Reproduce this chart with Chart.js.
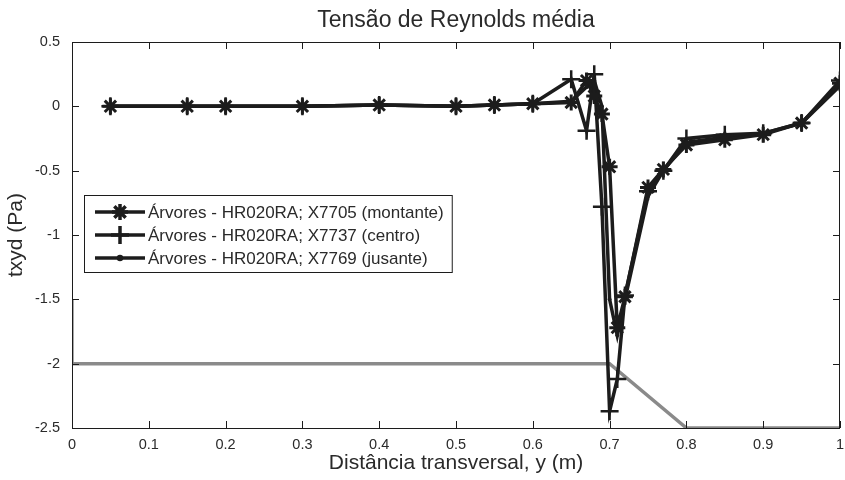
<!DOCTYPE html>
<html>
<head>
<meta charset="utf-8">
<script src="https://cdn.jsdelivr.net/npm/chart.js@4"></script>
<style>
  html, body { margin: 0; padding: 0; background: #fff; }
</style>
</head>
<body>
<canvas id="chart" width="845" height="480"></canvas>
<script>
// posições transversais (m)
const xPos = [0.05, 0.15, 0.2, 0.3, 0.4, 0.5, 0.55, 0.6, 0.65, 0.67, 0.68, 0.69, 0.70, 0.71, 0.72, 0.75, 0.77, 0.8, 0.85, 0.9, 0.95, 1.0];

// tensão média txyd (Pa)
const montante = [0, 0, 0, 0, 0.01, 0, 0.01, 0.02, 0.03, 0.2, 0.08, -0.06, -0.47, -1.72, -1.48, -0.63, -0.49, -0.3, -0.26, -0.22, -0.13, 0.18];
const centro   = [0, 0, 0, 0, 0.01, 0, 0.01, 0.02, 0.21, -0.19, 0.25, -0.78, -2.37, -2.12, -1.47, -0.66, -0.5, -0.25, -0.22, -0.21, -0.13, 0.2];
const jusante  = [0, 0, 0, 0, 0.01, 0, 0.01, 0.02, 0.04, 0.15, 0.2, 0.0, -1.5, -1.78, -1.5, -0.7, -0.5, -0.28, -0.24, -0.21, -0.13, 0.16];

// linha cinza (perfil do fundo)
const perfilX = [0, 0, 0.7, 0.8, 1.0];
const perfilY = [-1.5, -2, -2, -2.5, -2.5];

const labels = [
  "Árvores - HR020RA; X7705 (montante)",
  "Árvores - HR020RA; X7737 (centro)",
  "Árvores - HR020RA; X7769 (jusante)"
];
const xTicks = [0, 0.1, 0.2, 0.3, 0.4, 0.5, 0.6, 0.7, 0.8, 0.9, 1];
const yTicks = [0.5, 0, -0.5, -1, -1.5, -2, -2.5];

const ink = "#1c1c1c";
const txt = "#2a2a2a";
const font = "'Liberation Sans', Arial, sans-serif";

function pts(xs, ys) {
  return xs.map((x, i) => ({ x: x, y: ys[i] }));
}

// moldura, ticks para dentro, título e legenda ao estilo Matlab
const matlabBox = {
  id: "matlabBox",
  afterDraw(chart) {
    const ctx = chart.ctx;
    const a = chart.chartArea;
    const sx = chart.scales.x, sy = chart.scales.y;
    ctx.save();
    ctx.strokeStyle = ink;
    ctx.lineWidth = 1;
    ctx.strokeRect(a.left + 0.5, a.top + 0.5, a.right - a.left - 1, a.bottom - a.top);
    ctx.beginPath();
    xTicks.forEach(v => {
      const p = Math.round(sx.getPixelForValue(v)) + 0.5;
      ctx.moveTo(p, a.bottom); ctx.lineTo(p, a.bottom - 7);
      ctx.moveTo(p, a.top); ctx.lineTo(p, a.top + 7);
    });
    yTicks.forEach(v => {
      const p = Math.round(sy.getPixelForValue(v)) + 0.5;
      ctx.moveTo(a.left, p); ctx.lineTo(a.left + 7, p);
      ctx.moveTo(a.right, p); ctx.lineTo(a.right - 7, p);
    });
    ctx.stroke();

    ctx.fillStyle = txt;
    ctx.font = "23px " + font;
    ctx.textAlign = "center";
    ctx.textBaseline = "middle";
    ctx.fillText("Tensão de Reynolds média", (a.left + a.right) / 2, 21);

    // legenda
    ctx.font = "17px " + font;
    const tw = Math.max(...labels.map(s => ctx.measureText(s).width));
    const lx = 84, ly = 195, lw = 64 + tw + 8, lh = 77;
    ctx.fillStyle = "#fff";
    ctx.fillRect(lx, ly, lw, lh);
    ctx.strokeStyle = ink;
    ctx.lineWidth = 1;
    ctx.strokeRect(lx + 0.5, ly + 0.5, lw, lh);
    ctx.textAlign = "left";
    for (let i = 0; i < 3; i++) {
      const ds = chart.data.datasets[i];
      const yy = ly + 17 + i * 23;
      ctx.strokeStyle = ink;
      ctx.lineWidth = 3.5;
      ctx.beginPath();
      ctx.moveTo(lx + 11, yy); ctx.lineTo(lx + 61, yy);
      ctx.stroke();
      Chart.helpers.drawPoint(ctx, {
        pointStyle: ds.pointStyle,
        radius: ds.pointRadius,
        borderWidth: ds.pointBorderWidth
      }, lx + 36, yy);
      ctx.fillStyle = txt;
      ctx.fillText(ds.label, lx + 64, yy + 1);
    }
    ctx.restore();
  }
};

const ctx = document.getElementById("chart").getContext("2d");
new Chart(ctx, {
  type: "line",
  data: {
    datasets: [
      {
        label: labels[0], data: pts(xPos, montante),
        borderColor: ink, backgroundColor: ink, borderWidth: 3.5,
        pointStyle: "star", pointRadius: 8, pointBorderWidth: 3,
        pointBorderColor: ink, pointBackgroundColor: ink
      },
      {
        label: labels[1], data: pts(xPos, centro),
        borderColor: ink, backgroundColor: ink, borderWidth: 3.5,
        pointStyle: "cross", pointRadius: 9, pointBorderWidth: 2.5,
        pointBorderColor: ink, pointBackgroundColor: ink
      },
      {
        label: labels[2], data: pts(xPos, jusante),
        borderColor: ink, backgroundColor: ink, borderWidth: 3.5,
        pointStyle: "circle", pointRadius: 1.5, pointBorderWidth: 1,
        pointBorderColor: ink, pointBackgroundColor: ink
      },
      {
        label: "perfil", data: pts(perfilX, perfilY),
        borderColor: "#8a8a8a", borderWidth: 3.5, pointRadius: 0
      }
    ]
  },
  options: {
    responsive: false,
    animation: false,
    layout: { autoPadding: false, padding: { top: 42, right: 5, left: 0, bottom: 0 } },
    plugins: {
      legend: { display: false },
      tooltip: { enabled: false }
    },
    scales: {
      x: {
        type: "linear", min: 0, max: 1,
        afterFit(s) { s.height = 52; s.paddingRight = 0; s.paddingLeft = 0; },
        afterBuildTicks(s) { s.ticks = xTicks.map(v => ({ value: v })); },
        grid: { display: false },
        border: { display: false },
        ticks: {
          color: txt, font: { family: font, size: 14.5 }, padding: 0, maxRotation: 0,
          autoSkip: false, callback: v => String(v)
        },
        title: {
          display: true, text: "Distância transversal, y (m)",
          color: txt, font: { family: font, size: 21 }, padding: { top: 0 }
        }
      },
      y: {
        type: "linear", min: -2.5, max: 0.5,
        afterFit(s) { s.width = 72; s.paddingTop = 0; s.paddingBottom = 0; },
        afterBuildTicks(s) { s.ticks = yTicks.map(v => ({ value: v })); },
        grid: { display: false },
        border: { display: false },
        ticks: {
          color: txt, font: { family: font, size: 14.5 }, padding: 4,
          autoSkip: false, callback: v => String(v)
        },
        title: {
          display: true, text: "txyd (Pa)",
          color: txt, font: { family: font, size: 21 }, padding: { bottom: 2 }
        }
      }
    }
  },
  plugins: [matlabBox]
});
</script>
</body>
</html>
